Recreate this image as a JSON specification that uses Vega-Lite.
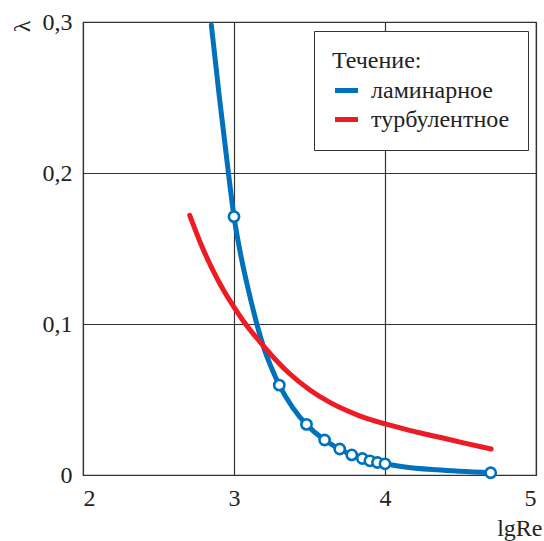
{
  "$schema": "https://vega.github.io/schema/vega-lite/v6.json",
  "autosize": {"type": "none"},
  "width": 453,
  "height": 453,
  "padding": {"left": 83, "top": 22, "right": 8, "bottom": 66},
  "config": {
    "font": "Liberation Serif",
    "view": {"stroke": "#333333", "strokeWidth": 1.2},
    "axis": {"labelFont": "Liberation Serif", "titleFont": "Liberation Serif", "labelFontSize": 24, "titleFontSize": 24, "labelColor": "#222222", "titleColor": "#222222", "titleFontWeight": "normal", "domain": false, "ticks": false, "gridColor": "#333333", "gridOpacity": 1, "gridWidth": 1.2}
  },
  "datasets": {
    "curves": [
      {"lgRe": 2.85, "lambda": 0.298, "flow": "ламинарное", "marker": false},
      {"lgRe": 2.9, "lambda": 0.253, "flow": "ламинарное", "marker": false},
      {"lgRe": 2.95, "lambda": 0.211, "flow": "ламинарное", "marker": false},
      {"lgRe": 3.0, "lambda": 0.1711, "flow": "ламинарное", "marker": true},
      {"lgRe": 3.05, "lambda": 0.143, "flow": "ламинарное", "marker": false},
      {"lgRe": 3.1, "lambda": 0.1205, "flow": "ламинарное", "marker": false},
      {"lgRe": 3.15, "lambda": 0.1005, "flow": "ламинарное", "marker": false},
      {"lgRe": 3.2, "lambda": 0.0835, "flow": "ламинарное", "marker": false},
      {"lgRe": 3.25, "lambda": 0.0705, "flow": "ламинарное", "marker": false},
      {"lgRe": 3.3, "lambda": 0.0595, "flow": "ламинарное", "marker": true},
      {"lgRe": 3.39, "lambda": 0.0445, "flow": "ламинарное", "marker": false},
      {"lgRe": 3.48, "lambda": 0.0335, "flow": "ламинарное", "marker": true},
      {"lgRe": 3.6, "lambda": 0.0232, "flow": "ламинарное", "marker": true},
      {"lgRe": 3.7, "lambda": 0.0172, "flow": "ламинарное", "marker": true},
      {"lgRe": 3.78, "lambda": 0.0133, "flow": "ламинарное", "marker": true},
      {"lgRe": 3.85, "lambda": 0.0109, "flow": "ламинарное", "marker": true},
      {"lgRe": 3.9, "lambda": 0.0094, "flow": "ламинарное", "marker": true},
      {"lgRe": 3.95, "lambda": 0.0083, "flow": "ламинарное", "marker": true},
      {"lgRe": 4.0, "lambda": 0.0074, "flow": "ламинарное", "marker": true},
      {"lgRe": 4.12, "lambda": 0.0055, "flow": "ламинарное", "marker": false},
      {"lgRe": 4.34, "lambda": 0.0034, "flow": "ламинарное", "marker": false},
      {"lgRe": 4.7, "lambda": 0.0015, "flow": "ламинарное", "marker": true},
      {"lgRe": 2.707, "lambda": 0.172, "flow": "турбулентное", "marker": false},
      {"lgRe": 2.78, "lambda": 0.1532, "flow": "турбулентное", "marker": false},
      {"lgRe": 2.858, "lambda": 0.136, "flow": "турбулентное", "marker": false},
      {"lgRe": 2.93, "lambda": 0.1225, "flow": "турбулентное", "marker": false},
      {"lgRe": 3.0, "lambda": 0.1112, "flow": "турбулентное", "marker": false},
      {"lgRe": 3.08, "lambda": 0.0995, "flow": "турбулентное", "marker": false},
      {"lgRe": 3.169, "lambda": 0.0885, "flow": "турбулентное", "marker": false},
      {"lgRe": 3.268, "lambda": 0.0772, "flow": "турбулентное", "marker": false},
      {"lgRe": 3.367, "lambda": 0.0672, "flow": "турбулентное", "marker": false},
      {"lgRe": 3.5, "lambda": 0.0565, "flow": "турбулентное", "marker": false},
      {"lgRe": 3.632, "lambda": 0.0483, "flow": "турбулентное", "marker": false},
      {"lgRe": 3.75, "lambda": 0.0425, "flow": "турбулентное", "marker": false},
      {"lgRe": 3.831, "lambda": 0.0392, "flow": "турбулентное", "marker": false},
      {"lgRe": 3.92, "lambda": 0.0362, "flow": "турбулентное", "marker": false},
      {"lgRe": 4.003, "lambda": 0.0338, "flow": "турбулентное", "marker": false},
      {"lgRe": 4.162, "lambda": 0.0296, "flow": "турбулентное", "marker": false},
      {"lgRe": 4.339, "lambda": 0.0255, "flow": "турбулентное", "marker": false},
      {"lgRe": 4.52, "lambda": 0.0213, "flow": "турбулентное", "marker": false},
      {"lgRe": 4.703, "lambda": 0.0172, "flow": "турбулентное", "marker": false}
    ]
  },
  "data": {"name": "curves"},
  "encoding": {
    "x": {"field": "lgRe", "type": "quantitative", "scale": {"domain": [2, 5], "nice": false, "zero": false},
      "axis": {"values": [2, 3, 4, 5], "labelPadding": 11, "title": "lgRe", "titleAnchor": "end", "titleAlign": "right", "titleX": 459, "titleY": 60, "titleBaseline": "alphabetic"}},
    "y": {"field": "lambda", "type": "quantitative", "scale": {"domain": [0, 0.3], "nice": false},
      "axis": {"values": [0, 0.1, 0.2, 0.3], "labelPadding": 11, "labelExpr": "datum.value == 0 ? '0' : replace(format(datum.value, '.1f'), '.', ',')", "title": "λ", "titleAngle": -90, "titleX": -61, "titleY": 4, "titleAlign": "center", "titleBaseline": "middle", "titleFontSize": 24}}
  },
  "layer": [
    {
      "mark": {"type": "line", "strokeWidth": 5, "strokeCap": "round", "interpolate": "monotone"},
      "encoding": {
        "color": {"field": "flow", "type": "nominal",
          "scale": {"domain": ["ламинарное", "турбулентное"], "range": ["#0072bc", "#ed1c24"]},
          "legend": {"title": "Течение:", "orient": "none", "legendX": 231, "legendY": 9, "padding": 18,
            "fillColor": "white", "strokeColor": "#333333",
            "titleFont": "Liberation Serif", "titleFontSize": 24, "titleFontWeight": "normal", "titleColor": "#222222", "titlePadding": 3,
            "labelFont": "Liberation Serif", "labelFontSize": 24, "labelColor": "#222222", "labelOffset": 10, "labelLimit": 300,
            "symbolType": "stroke", "symbolStrokeWidth": 5, "symbolSize": 530, "rowPadding": 2}}
      }
    },
    {
      "transform": [{"filter": "datum.marker"}],
      "mark": {"type": "point", "shape": "circle", "filled": true, "fill": "white", "stroke": "#0072bc", "strokeWidth": 2.6, "size": 105, "opacity": 1}
    }
  ]
}
